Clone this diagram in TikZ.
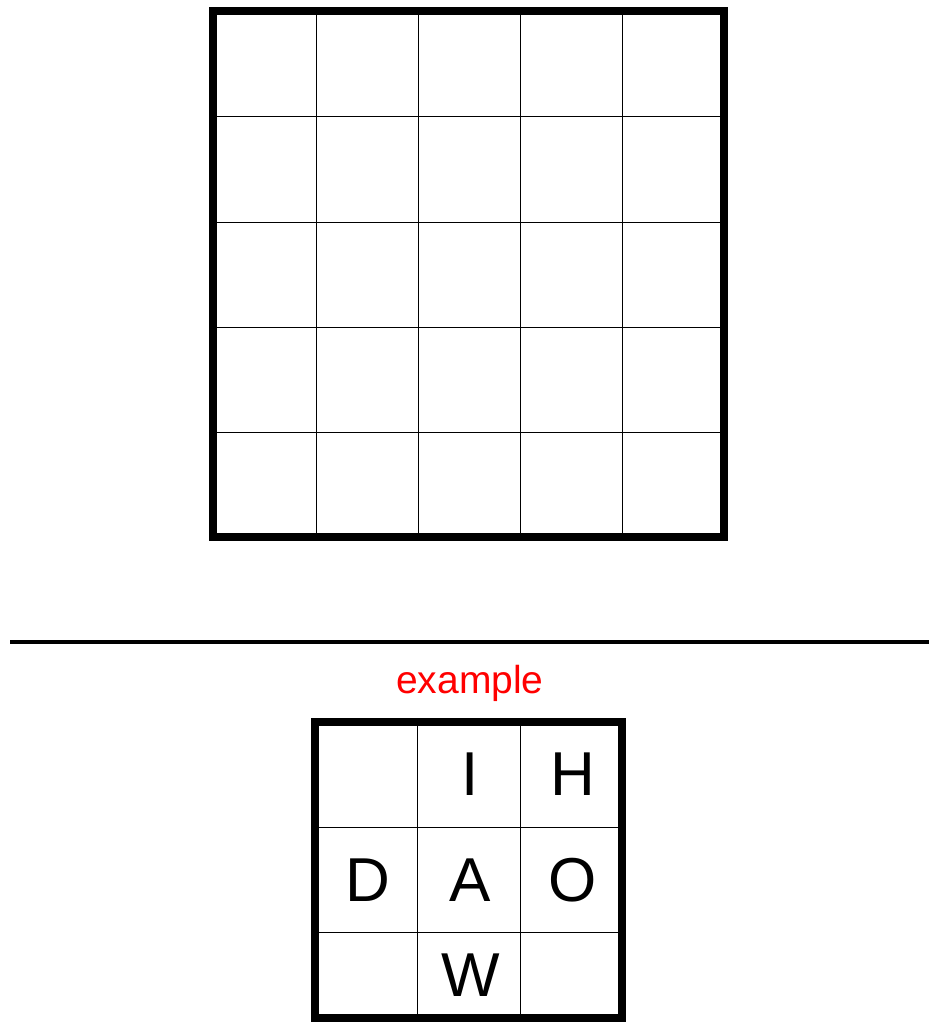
\documentclass[tikz,border=0pt]{standalone}
\usepackage{fontspec}
\setmainfont{Liberation Sans}
\usetikzlibrary{positioning}
\begin{document}
\begin{tikzpicture}[x=1pt,y=-1pt,
  grid line/.style={line width=1pt},
  frame/.style={line width=8pt},
  letter/.style={anchor=base,font=\fontsize{62}{62}\selectfont}]
\useasboundingbox (0,0) rectangle (939,1031);
% puzzle grid
\foreach \x in {316,418,520,622.3} \draw[grid line] (\x,11) -- (\x,537);
\foreach \y in {116.7,222,327,432.3} \draw[grid line] (212.5,\y) -- (724,\y);
\draw[frame] (212.5,11) rectangle (724,537);
% separator
\coordinate (sepL) at (10,642);
\coordinate (sepR) at (929,642);
\draw[line width=4pt] (sepL) -- (sepR);
\node[text=red,font=\fontsize{39}{39}\selectfont] (title) at (470,683.3) {example};
% example grid
\foreach \x in {417.5,520} \draw[grid line] (\x,722) -- (\x,1018);
\foreach \y in {827.3,932.3} \draw[grid line] (315,\y) -- (622,\y);
\draw[frame] (315,722) rectangle (622,1018);
\node[letter] (i) at (470.5,795) {I};
\node[letter] (h) at (573,795) {H};
\node[letter] (d) at (368,901.5) {D};
\node[letter] (a) at (470.5,901.5) {A};
\node[letter] (o) at (573,901.5) {O};
\node[letter] (w) at (470.5,996.5) {W};
\end{tikzpicture}
\end{document}
